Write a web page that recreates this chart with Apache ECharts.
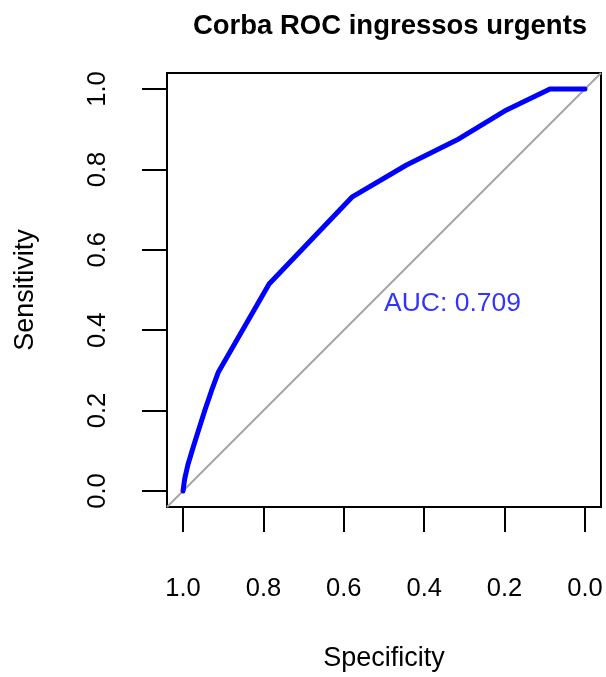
<!DOCTYPE html>
<html><head><meta charset="utf-8">
<script src="https://cdn.jsdelivr.net/npm/echarts@6/dist/echarts.min.js"></script>
<style>html,body{margin:0;padding:0;background:#fff}#c{width:606px;height:677px}</style>
</head><body><div id="c"></div>
<script>
const specificity = [1.000, 0.996, 0.988, 0.976, 0.962, 0.946, 0.929, 0.912, 0.786, 0.580, 0.444, 0.319, 0.195, 0.087, 0.000];
const sensitivity = [0.000, 0.030, 0.065, 0.105, 0.150, 0.200, 0.250, 0.296, 0.515, 0.731, 0.811, 0.873, 0.948, 1.000, 1.000];
const tickValues = [0, 0.2, 0.4, 0.6, 0.8, 1.0];
const diagonal = [[1.04, -0.04], [-0.04, 1.04]];
const aucText = 'AUC: 0.709';
const aucPos = [0.5, 0.5];

const font = 'Liberation Sans, Arial, Helvetica, sans-serif';
const chart = echarts.init(document.getElementById('c'), null, {renderer: 'canvas'});
chart.setOption({
  animation: false,
  backgroundColor: '#fff',
  title: {
    text: 'Corba ROC ingressos urgents',
    left: 385, top: 7, textAlign: 'center',
    textStyle: {fontFamily: font, fontWeight: 'bold', fontSize: 27.5, color: '#000'}
  },
  grid: {left: 167, top: 73, right: 5, bottom: 170, show: true, borderColor: '#000', borderWidth: 2, backgroundColor: 'transparent'},
  xAxis: {
    type: 'value', inverse: true, min: -0.04, max: 1.04,
    axisLine: {show: false, onZero: false},
    splitLine: {show: false},
    axisTick: {show: true, length: 25, lineStyle: {color: '#000', width: 2}, customValues: tickValues},
    axisLabel: {customValues: tickValues, formatter: v => v.toFixed(1), fontFamily: font, fontSize: 25.5, color: '#000', margin: 69},
    name: 'Specificity', nameLocation: 'middle', nameGap: 138,
    nameTextStyle: {fontFamily: font, fontSize: 27, color: '#000'}
  },
  yAxis: {
    type: 'value', min: -0.04, max: 1.04,
    axisLine: {show: false, onZero: false},
    splitLine: {show: false},
    axisTick: {show: true, length: 25, lineStyle: {color: '#000', width: 2}, customValues: tickValues},
    axisLabel: {customValues: tickValues, formatter: v => v.toFixed(1), rotate: 90, fontFamily: font, fontSize: 25.5, color: '#000', margin: 56},
    name: 'Sensitivity', nameLocation: 'middle', nameGap: 128, nameRotate: 90,
    nameTextStyle: {fontFamily: font, fontSize: 27, color: '#000'}
  },
  series: [
    {
      type: 'line', data: diagonal, symbol: 'none', silent: true,
      lineStyle: {color: '#a6a6a6', width: 2}, z: 1
    },
    {
      type: 'line', data: specificity.map((s, i) => [s, sensitivity[i]]),
      symbol: 'none', lineStyle: {color: '#0000ff', width: 5, cap: 'round', join: 'round'}, z: 3
    },
    {
      type: 'scatter', data: [aucPos], symbolSize: 0, silent: true, z: 4,
      label: {show: true, position: [0, 0], align: 'left', verticalAlign: 'top', formatter: aucText,
        fontFamily: font, fontSize: 26.5, color: '#0000ff'}
    }
  ]
});
</script>
</body></html>
